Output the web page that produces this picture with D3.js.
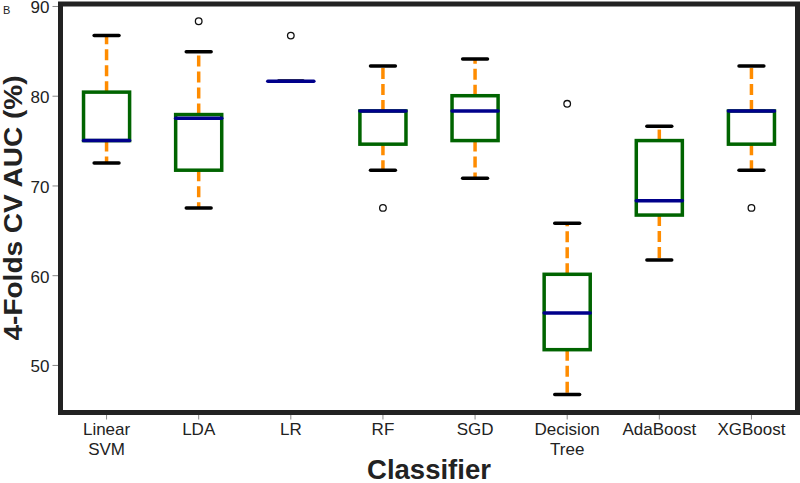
<!DOCTYPE html>
<html>
<head>
<meta charset="utf-8">
<script src="https://cdnjs.cloudflare.com/ajax/libs/d3/7.8.5/d3.min.js"></script>
<style>
  html, body { margin: 0; padding: 0; background: #fff; }
  svg { display: block; }
</style>
</head>
<body>
<div id="chart"></div>
<script>
// ---- data ----
const categories = ["Linear\nSVM", "LDA", "LR", "RF", "SGD", "Decision\nTree", "AdaBoost", "XGBoost"];
const whiskerLow  = [72.5, 67.5, 81.6, 71.7, 70.8, 46.7, 61.7, 71.7];
const q1Values    = [75.0, 71.7, 81.6, 74.6, 75.0, 51.7, 66.7, 74.6];
const medians     = [75.0, 77.5, 81.6, 78.3, 78.3, 55.8, 68.3, 78.3];
const q3Values    = [80.4, 77.9, 81.6, 78.3, 80.0, 60.1, 75.0, 78.3];
const whiskerHigh = [86.7, 84.9, 81.6, 83.3, 84.1, 65.8, 76.6, 83.3];
const outliers    = [[], [88.3], [86.7], [67.5], [], [79.1], [], [67.5]];
const yTicks = [50, 60, 70, 80, 90];
const yDomain = [44.7, 90.22];
const yTitle = "4-Folds CV AUC (%)";
const xTitle = "Classifier";
const panelLabel = "B";

// ---- layout ----
const W = 800, H = 483;
const pLeft = 60.5, pRight = 797.5, pTop = 4, pBottom = 412.5;
const font = "'Liberation Sans', Arial, Helvetica, sans-serif";

const svg = d3.select("#chart").append("svg").attr("width", W).attr("height", H);

const x = d3.scaleBand().domain(categories).range([pLeft, pRight]).paddingInner(0).paddingOuter(0);
const y = d3.scaleLinear().domain(yDomain).range([pBottom, pTop]);
const bw = x.bandwidth();
const boxW = bw * 0.5;
const capW = bw * 0.27;

// y axis
const yAxis = d3.axisLeft(y).tickValues(yTicks).tickSize(6).tickPadding(3).tickFormat(d3.format("d"));
const gy = svg.append("g").attr("transform", `translate(${pLeft - 2},0)`).call(yAxis);
gy.select(".domain").remove();
gy.selectAll(".tick line").attr("stroke", "#888").attr("stroke-width", 1);
gy.selectAll(".tick text").attr("font-family", font).attr("font-size", 17).attr("fill", "#222")
  .attr("y", 1.5);

// x axis
const xAxis = d3.axisBottom(x).tickSize(5).tickPadding(6).tickFormat("");
const gx = svg.append("g").attr("transform", `translate(0,${pBottom + 2})`).call(xAxis);
gx.select(".domain").remove();
gx.selectAll(".tick line").attr("stroke", "#888").attr("stroke-width", 1);
gx.selectAll(".tick").each(function(d) {
  const lines = d.split("\n");
  const t = d3.select(this).append("text")
    .attr("font-family", font).attr("font-size", 17).attr("fill", "#222")
    .attr("text-anchor", "middle");
  lines.forEach((ln, i) => {
    t.append("tspan").attr("x", 0).attr("y", 20.5 + i * 20).text(ln);
  });
});

// boxes
const data = categories.map((c, i) => ({
  c, lo: whiskerLow[i], q1: q1Values[i], med: medians[i], q3: q3Values[i], hi: whiskerHigh[i], out: outliers[i]
}));

const g = svg.append("g");
data.forEach(d => {
  const cx = x(d.c) + bw / 2;
  // whiskers
  g.append("line").attr("x1", cx).attr("x2", cx).attr("y1", y(d.q1)).attr("y2", y(d.lo))
    .attr("stroke", "#FF8C00").attr("stroke-width", 3.5).attr("stroke-dasharray", "11,5");
  g.append("line").attr("x1", cx).attr("x2", cx).attr("y1", y(d.q3)).attr("y2", y(d.hi))
    .attr("stroke", "#FF8C00").attr("stroke-width", 3.5).attr("stroke-dasharray", "11,5");
  // caps
  [d.lo, d.hi].forEach(v => {
    g.append("line").attr("x1", cx - capW / 2).attr("x2", cx + capW / 2).attr("y1", y(v)).attr("y2", y(v))
      .attr("stroke", "#000").attr("stroke-width", 3.5).attr("stroke-linecap", "round");
  });
  // box
  g.append("rect").attr("x", cx - boxW / 2).attr("y", y(d.q3)).attr("width", boxW)
    .attr("height", Math.max(0, y(d.q1) - y(d.q3)))
    .attr("fill", "none").attr("stroke", "#006400").attr("stroke-width", 3.5);
  // median
  g.append("line").attr("x1", cx - boxW / 2).attr("x2", cx + boxW / 2).attr("y1", y(d.med)).attr("y2", y(d.med))
    .attr("stroke", "#00008B").attr("stroke-width", 3.5).attr("stroke-linecap", "round");
  // outliers
  d.out.forEach(v => {
    g.append("circle").attr("cx", cx).attr("cy", y(v)).attr("r", 3.3)
      .attr("fill", "none").attr("stroke", "#111").attr("stroke-width", 1.3);
  });
});

// frame
svg.append("rect").attr("x", pLeft).attr("y", pTop).attr("width", pRight - pLeft).attr("height", pBottom - pTop)
  .attr("fill", "none").attr("stroke", "#222").attr("stroke-width", 5);

// titles
svg.append("text").attr("transform", `translate(21.5,208) rotate(-90)`)
  .attr("text-anchor", "middle").attr("font-family", font).attr("font-weight", "bold")
  .attr("font-size", 26.5).attr("textLength", 265).attr("lengthAdjust", "spacingAndGlyphs")
  .attr("fill", "#222").text(yTitle);
svg.append("text").attr("x", (pLeft + pRight) / 2).attr("y", 479)
  .attr("text-anchor", "middle").attr("font-family", font).attr("font-weight", "bold")
  .attr("font-size", 27.5).attr("fill", "#222").text(xTitle);
svg.append("text").attr("x", 3).attr("y", 14)
  .attr("font-family", font).attr("font-size", 11).attr("fill", "#222").text(panelLabel);
</script>
</body>
</html>
